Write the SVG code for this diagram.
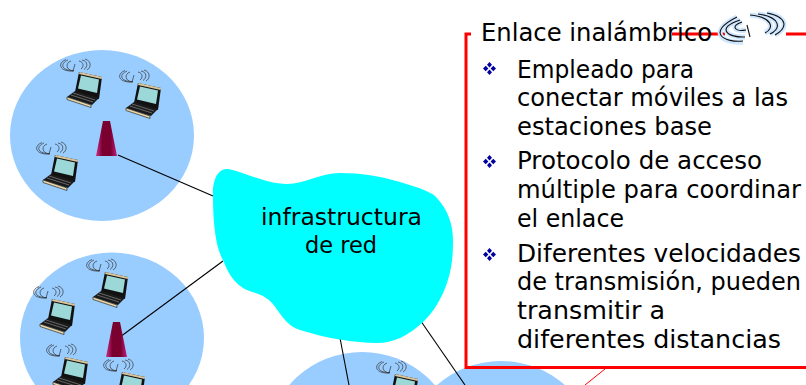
<svg xmlns="http://www.w3.org/2000/svg" width="806" height="385" viewBox="0 0 806 385">
<style>
text{font-family:"DejaVu Sans","Noto Sans",sans-serif;fill:#000}
.b{font-size:24px}
.c{font-size:23px}
.cell{fill:#99ccff}
.link{stroke:#000;stroke-width:1.1;fill:none}
.red{stroke:#ff0000;stroke-width:3;fill:none}
.wave{fill:none;stroke:#333;stroke-width:.7}
</style>
<defs>
<linearGradient id="tw" x1="0" y1="0" x2="1" y2="0"><stop offset="0" stop-color="#d0308c"/><stop offset=".3" stop-color="#7a0030"/><stop offset=".7" stop-color="#7a0030"/><stop offset="1" stop-color="#c02080"/></linearGradient>
<g id="tower"><polygon points="7,0 14,0 21,35 0,35" fill="url(#tw)"/></g>
<g id="bul" fill="#0000a0"><polygon points="6.500,0 9,2.700 6.500,5.400 4,2.700"/><polygon points="2.700,3.800 5.400,6.500 2.700,9.200 0,6.500"/><polygon points="10.300,3.800 13,6.500 10.300,9.200 7.600,6.500"/><polygon points="6.500,7.600 9,10.300 6.500,13 4,10.300"/></g>
<g id="lap">
<path class="wave" d="M6,-1C-1,-2 -2,-9 4,-11M7,-1.500C-5,-1 -8,-8 1,-12M7,-1C-8,0 -10,-9 -1,-12.500M12,-11C17,-10 17,-5 14,-3M15,-12C21,-11 21,-5 17,-2.500M18,-13C25,-11 24,-4 20,-2M8,-8L6,-1"/>
<polygon points="12,0 35,5 32,27 8,20" fill="#111"/>
<polygon points="12.500,0 35,5 34.700,7 12,2" fill="#d8c49a"/>
<polygon points="14,3.500 32,7.500 30,21 11,16.500" fill="#9cd8d8"/>
<polygon points="8,19 32,26 25,33 0,25" fill="#1a1a1a"/>
<path d="M6,21L28,28M4,23L26,30" stroke="#999" stroke-width=".6"/>
<polygon points="0,25 24,33 24,35.500 0,27.500" fill="#ecd8a8" stroke="#111" stroke-width=".6"/>
</g>
</defs>
<g id="cell1"><ellipse class="cell" cx="102" cy="135.500" rx="92" ry="85.500"/></g>
<g id="cell2"><ellipse class="cell" cx="112" cy="338" rx="92" ry="85.500"/></g>
<g id="cell3"><ellipse class="cell" cx="362" cy="437.500" rx="92" ry="85.500"/></g>
<g id="cell4"><ellipse class="cell" cx="501" cy="446.500" rx="92" ry="85.500"/></g>
<g id="connectors">
<path class="link" d="M118,155L213,196"/>
<path class="link" d="M120,337L223,261"/>
<path class="link" d="M340,338L349,385"/>
<path class="link" d="M421.500,322L465,385"/>
<path d="M605,369L585,385" stroke="#ff0000" stroke-width="1" fill="none"/>
</g>
<g id="cloud"><path d="M213,197C212,180 218,168 228,169C245,172 265,184 287,184C305,184 320,173 340,173C360,173 380,176 400,182C420,188 432,192 437,198C448,210 453,225 453,240C453,256 452,268 447,283C442,298 433,313 422,323C408,336 393,343 377,343C355,343 325,338 300,330C285,325 280,312 272,303C262,292 250,293 243,288C232,281 227,270 223,260C216,248 213,225 213,197Z" fill="#00ffff"/>
<text class="c" x="341.500" y="225" text-anchor="middle" textLength="161" lengthAdjust="spacingAndGlyphs">infrastructura</text>
<text class="c" x="341" y="253" text-anchor="middle" textLength="72" lengthAdjust="spacingAndGlyphs">de red</text></g>
<g id="tower1"><use href="#tower" x="96" y="121"/></g>
<g id="tower2"><use href="#tower" x="106" y="322"/></g>
<g id="laptops">
<use href="#lap" x="67" y="72"/>
<use href="#lap" x="126" y="83"/>
<use href="#lap" x="43" y="155"/>
<use href="#lap" x="93" y="272"/>
<use href="#lap" x="40" y="299"/>
<use href="#lap" x="53" y="357"/>
<use href="#lap" x="110" y="372"/>
<use href="#lap" x="383" y="374"/>
</g>
<g id="box">
<path class="red" d="M471,34H466V367.500H806"/>
<path class="red" d="M672,34H725M786,34H806"/>
<text x="481" y="41" font-size="25" textLength="231" lengthAdjust="spacingAndGlyphs">Enlace inalámbrico</text>
<g fill="none">
<path d="M743,42C725,44 705,33 737,17M745,37C728,38 715,28 740,20M746,30C735,32 730,26 742,22M750,15C772,17 775,28 765,33M758,14C780,17 782,28 770,34M767,13C788,17 788,28 775,35" stroke="#cfe6ff" stroke-width="5"/>
<path d="M743,41C725,43 705,33 737,17M745,37C728,38 715,28 740,20M746,30C735,32 730,26 742,22M750,15C772,17 775,28 765,33M758,14C780,17 782,28 770,34M767,13C788,17 788,28 775,35M747,25L750,37" stroke="#111" stroke-width="1.100"/>
</g>
<use href="#bul" x="483" y="62"/>
<text class="b" x="517" y="78" textLength="177" lengthAdjust="spacingAndGlyphs">Empleado para</text>
<text class="b" x="517" y="106" textLength="271" lengthAdjust="spacingAndGlyphs">conectar móviles a las</text>
<text class="b" x="517" y="135" textLength="195" lengthAdjust="spacingAndGlyphs">estaciones base</text>
<use href="#bul" x="483" y="155"/>
<text class="b" x="517" y="169" textLength="245" lengthAdjust="spacingAndGlyphs">Protocolo de acceso</text>
<text class="b" x="517" y="198" textLength="284" lengthAdjust="spacingAndGlyphs">múltiple para coordinar</text>
<text class="b" x="517" y="227" textLength="107" lengthAdjust="spacingAndGlyphs">el enlace</text>
<use href="#bul" x="483" y="248"/>
<text class="b" x="517" y="262" textLength="284" lengthAdjust="spacingAndGlyphs">Diferentes velocidades</text>
<text class="b" x="517" y="290" textLength="284" lengthAdjust="spacingAndGlyphs">de transmisión, pueden</text>
<text class="b" x="517" y="319" textLength="148" lengthAdjust="spacingAndGlyphs">transmitir a</text>
<text class="b" x="517" y="348" textLength="264" lengthAdjust="spacingAndGlyphs">diferentes distancias</text>
</g>
</svg>
